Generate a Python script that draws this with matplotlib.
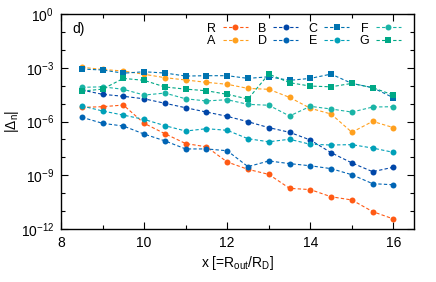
import numpy as np
import matplotlib
matplotlib.use("Agg")
import matplotlib.pyplot as plt
from matplotlib.ticker import FixedLocator, NullFormatter

plt.rcParams['font.family'] = ['Liberation Sans', 'DejaVu Sans']
plt.rcParams['mathtext.default'] = 'regular'

# x values (R_out / R_D)
x = [8.5, 9.0, 9.5, 10.0, 10.5, 11.0, 11.5, 12.0,
     12.5, 13.0, 13.5, 14.0, 14.5, 15.0, 15.5, 16.0]

# log10 |Delta_n| for each series
R = [-5.21, -5.17, -5.08, -6.10, -6.68, -7.23, -7.41, -8.26,
     -8.67, -8.95, -9.73, -9.80, -10.20, -10.38, -11.03, -11.44]
A = [-2.97, -3.09, -3.18, -3.36, -3.55, -3.68, -3.81, -3.92,
     -4.15, -4.20, -4.65, -5.26, -5.58, -6.60, -5.99, -6.34]
B = [-4.24, -4.48, -4.59, -4.73, -4.98, -5.23, -5.47, -5.71,
     -6.01, -6.34, -6.60, -7.03, -7.74, -8.31, -8.80, -8.55]
D = [-5.76, -6.10, -6.25, -6.70, -7.08, -7.53, -7.53, -7.63,
     -8.52, -8.20, -8.35, -8.47, -8.63, -8.97, -9.47, -9.53]
C = [-3.07, -3.12, -3.30, -3.22, -3.29, -3.46, -3.44, -3.44,
     -3.59, -3.50, -3.70, -3.59, -3.35, -3.87, -4.11, -4.67]
E = [-5.13, -5.41, -5.64, -5.88, -6.23, -6.53, -6.40, -6.49,
     -6.96, -7.13, -6.99, -7.27, -7.31, -7.29, -7.48, -7.72]
F = [-4.09, -4.06, -4.20, -4.52, -4.41, -4.73, -4.85, -4.78,
     -5.04, -5.09, -5.69, -5.15, -5.30, -5.47, -5.19, -5.17]
G = [-4.30, -4.19, -3.59, -3.70, -4.07, -4.19, -4.28, -4.48,
     -4.74, -3.35, -3.83, -4.02, -4.06, -3.87, -4.11, -4.52]

series = [
    ("R", R, "#ff5a14", "o"),
    ("A", A, "#ffa01e", "o"),
    ("B", B, "#0046a8", "o"),
    ("D", D, "#0064b4", "o"),
    ("C", C, "#0073b0", "s"),
    ("E", E, "#00a0b8", "o"),
    ("F", F, "#1ab4a6", "o"),
    ("G", G, "#00a886", "s"),
]

fig = plt.figure(figsize=(4.36, 2.82), dpi=100)
ax = fig.add_axes([0.140, 0.188, 0.810, 0.762])

for name, vals, col, mk in series:
    ax.plot(x, 10.0 ** np.array(vals), linestyle=(0, (3, 2)), linewidth=0.8,
            color=col, marker=mk, markersize=4.3, markeredgewidth=0,
            label=name)

ax.set_yscale('log')
ax.set_xlim(8, 16.5)
ax.set_ylim(1e-12, 1e0)

ax.yaxis.set_major_locator(FixedLocator([1e-12, 1e-9, 1e-6, 1e-3, 1e0]))
ax.yaxis.set_minor_locator(FixedLocator([10.0 ** k for k in range(-12, 1)]))
ax.yaxis.set_minor_formatter(NullFormatter())
ax.set_yticklabels(['10$^{-12}$', '10$^{-9}$', '10$^{-6}$', '10$^{-3}$', '10$^{0}$'])
ax.set_xticks([8, 10, 12, 14, 16])
ax.set_xticks([9, 11, 13, 15], minor=True)

ax.tick_params(which='both', direction='in', top=True, right=True,
               labelsize=10, width=0.8, pad=5)
ax.tick_params(which='major', length=5)
ax.tick_params(which='minor', length=3)
for sp in ax.spines.values():
    sp.set_linewidth(1.0)

ax.set_xlabel('x [=R$_{out}$/R$_D$]', fontsize=10, labelpad=3)
ax.set_ylabel('|$\\Delta_n$|', fontsize=10)
ax.yaxis.set_label_coords(-0.113, 0.5)

ax.text(0.031, 0.965, 'd)', transform=ax.transAxes, fontsize=10,
        ha='left', va='top')

ax.legend(ncol=4, loc='upper right', bbox_to_anchor=(0.962, 0.96),
          frameon=False, markerfirst=False, fontsize=9,
          handlelength=2.0, handletextpad=0.55, columnspacing=0.8,
          labelspacing=0.02, borderaxespad=0, borderpad=0)

fig.savefig('out.png', dpi=100)
